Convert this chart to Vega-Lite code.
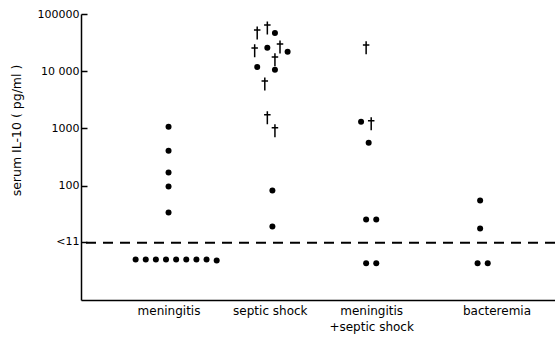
{
  "$schema": "https://vega.github.io/schema/vega-lite/v6.json",
  "width": 474,
  "height": 286,
  "autosize": {"type": "none"},
  "padding": {"left": 81, "top": 14, "right": 0, "bottom": 38},
  "background": "white",
  "config": {"view": {"stroke": null}, "font": "DejaVu Sans"},
  "data": {"values": [
    {"group": "meningitis", "value": 1070, "outcome": "survived", "slot": 1},
    {"group": "meningitis", "value": 408, "outcome": "survived", "slot": 1},
    {"group": "meningitis", "value": 169, "outcome": "survived", "slot": 1},
    {"group": "meningitis", "value": 96, "outcome": "survived", "slot": 1},
    {"group": "meningitis", "value": 34, "outcome": "survived", "slot": 1},
    {"group": "meningitis", "value": 5.1, "outcome": "survived", "slot": -12},
    {"group": "meningitis", "value": 5.1, "outcome": "survived", "slot": -8},
    {"group": "meningitis", "value": 5.1, "outcome": "survived", "slot": -4},
    {"group": "meningitis", "value": 5.1, "outcome": "survived", "slot": 0},
    {"group": "meningitis", "value": 5.1, "outcome": "survived", "slot": 4},
    {"group": "meningitis", "value": 5.1, "outcome": "survived", "slot": 8},
    {"group": "meningitis", "value": 5.1, "outcome": "survived", "slot": 12},
    {"group": "meningitis", "value": 5.1, "outcome": "survived", "slot": 16},
    {"group": "meningitis", "value": 4.9, "outcome": "survived", "slot": 20},
    {"group": "septic shock", "value": 46700, "outcome": "died", "slot": -4},
    {"group": "septic shock", "value": 57100, "outcome": "died", "slot": 0},
    {"group": "septic shock", "value": 46700, "outcome": "survived", "slot": 3},
    {"group": "septic shock", "value": 22700, "outcome": "died", "slot": -5},
    {"group": "septic shock", "value": 25600, "outcome": "survived", "slot": 0},
    {"group": "septic shock", "value": 26600, "outcome": "died", "slot": 5},
    {"group": "septic shock", "value": 21800, "outcome": "survived", "slot": 8},
    {"group": "septic shock", "value": 15800, "outcome": "died", "slot": 3},
    {"group": "septic shock", "value": 11900, "outcome": "survived", "slot": -4},
    {"group": "septic shock", "value": 10600, "outcome": "survived", "slot": 3},
    {"group": "septic shock", "value": 6000, "outcome": "died", "slot": -1},
    {"group": "septic shock", "value": 1540, "outcome": "died", "slot": 0},
    {"group": "septic shock", "value": 912, "outcome": "died", "slot": 3},
    {"group": "septic shock", "value": 82, "outcome": "survived", "slot": 2},
    {"group": "septic shock", "value": 19.3, "outcome": "survived", "slot": 2},
    {"group": "meningitis+septic shock", "value": 25600, "outcome": "died", "slot": -1},
    {"group": "meningitis+septic shock", "value": 1310, "outcome": "survived", "slot": -3},
    {"group": "meningitis+septic shock", "value": 1210, "outcome": "died", "slot": 1},
    {"group": "meningitis+septic shock", "value": 564, "outcome": "survived", "slot": 0},
    {"group": "meningitis+septic shock", "value": 25.6, "outcome": "survived", "slot": -1},
    {"group": "meningitis+septic shock", "value": 25.6, "outcome": "survived", "slot": 3},
    {"group": "meningitis+septic shock", "value": 4.4, "outcome": "survived", "slot": -1},
    {"group": "meningitis+septic shock", "value": 4.4, "outcome": "survived", "slot": 3},
    {"group": "bacteremia", "value": 55, "outcome": "survived", "slot": 4},
    {"group": "bacteremia", "value": 17.8, "outcome": "survived", "slot": 4},
    {"group": "bacteremia", "value": 4.4, "outcome": "survived", "slot": 3},
    {"group": "bacteremia", "value": 4.4, "outcome": "survived", "slot": 7}
  ]},
  "encoding": {
    "x": {
      "field": "group", "type": "nominal",
      "sort": ["meningitis", "septic shock", "meningitis+septic shock", "bacteremia"],
      "scale": {"type": "band", "paddingInner": 0, "paddingOuter": 0.339},
      "axis": {
        "title": null, "ticks": false, "domainColor": "black", "domainWidth": 1.5,
        "labelAngle": 0, "labelPadding": 5, "labelFontSize": 12, "labelColor": "black",
        "labelLineHeight": 16,
        "labelExpr": "datum.value == 'meningitis+septic shock' ? ['meningitis', '+septic shock'] : datum.value",
        "labelOffset": {"condition": {"test": "datum.value == 'bacteremia'", "value": 27}, "value": 3}
      }
    },
    "xOffset": {
      "field": "slot", "type": "nominal",
      "scale": {"type": "point", "padding": 0, "domain": [-20,-19,-18,-17,-16,-15,-14,-13,-12,-11,-10,-9,-8,-7,-6,-5,-4,-3,-2,-1,0,1,2,3,4,5,6,7,8,9,10,11,12,13,14,15,16,17,18,19,20]}
    },
    "y": {
      "field": "value", "type": "quantitative",
      "scale": {"type": "log", "domain": [1, 100000], "nice": false},
      "axis": {
        "title": "serum IL-10 ( pg/ml )", "titleFontSize": 12.5, "titleFontWeight": "normal", "titleColor": "black",
        "titleX": -58, "titleY": 116,
        "values": [100000, 10000, 1000, 100, 10.5],
        "labelExpr": "datum.value > 50000 ? '100000' : datum.value > 5000 ? '10 000' : datum.value > 500 ? '1000' : datum.value > 50 ? '100' : '<11'",
        "grid": false, "domainColor": "black", "domainWidth": 1.5,
        "tickColor": "black", "tickWidth": 1.5, "tickSize": -6,
        "labelPadding": 8, "labelFontSize": 11, "labelColor": "black"
      }
    }
  },
  "layer": [
    {
      "data": {"values": [{"limit": 10}]},
      "mark": {"type": "rule", "color": "black", "strokeWidth": 2, "strokeDash": [10, 7]},
      "encoding": {"y": {"field": "limit", "type": "quantitative"}, "x": null, "xOffset": null}
    },
    {
      "transform": [{"filter": "datum.outcome == 'survived'"}],
      "mark": {"type": "point", "shape": "circle", "filled": true, "color": "black", "size": 36, "opacity": 1}
    },
    {
      "transform": [{"filter": "datum.outcome == 'died'"}],
      "mark": {"type": "point", "shape": "M0,-1L0,1M-0.5,-0.45L0.5,-0.45", "filled": false, "stroke": "black", "strokeWidth": 1.5, "size": 169, "opacity": 1}
    }
  ]
}
